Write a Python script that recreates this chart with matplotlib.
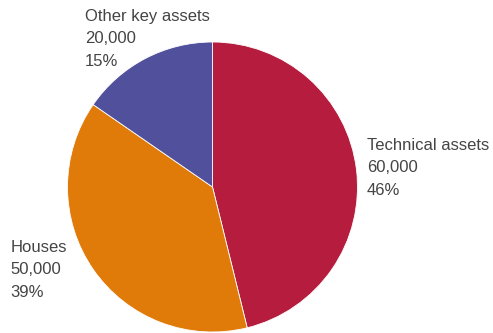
import matplotlib
matplotlib.use("Agg")
import matplotlib.pyplot as plt

categories = ["Technical assets", "Houses", "Other key assets"]
values = [60000, 50000, 20000]
percent_labels = ["46%", "39%", "15%"]
colors = ["#B51C3E", "#E07B0A", "#50509C"]

W, H = 493, 333
fig = plt.figure(figsize=(W / 100, H / 100), dpi=100)
ax = fig.add_axes([0, 0, 1, 1])

ax.pie(values, colors=colors, startangle=90, counterclock=False,
       center=(212.5, H - 187), radius=145,
       wedgeprops=dict(edgecolor="white", linewidth=0.6))
ax.set_xlim(0, W)
ax.set_ylim(0, H)
ax.set_aspect("equal")
ax.axis("off")

# label anchor: left x and first-line baseline (pixels from top)
label_pos = {"Technical assets": (367, 150),
             "Houses": (10.5, 252),
             "Other key assets": (85, 21)}
line_step = 22.3
for name, val, pct in zip(categories, values, percent_labels):
    x, y = label_pos[name]
    for i, line in enumerate([name, f"{val:,}", pct]):
        ax.text(x, H - (y + i * line_step), line, ha="left", va="baseline",
                fontsize=12, family="Liberation Sans", color="#444444")

fig.savefig("out.png", dpi=100)
